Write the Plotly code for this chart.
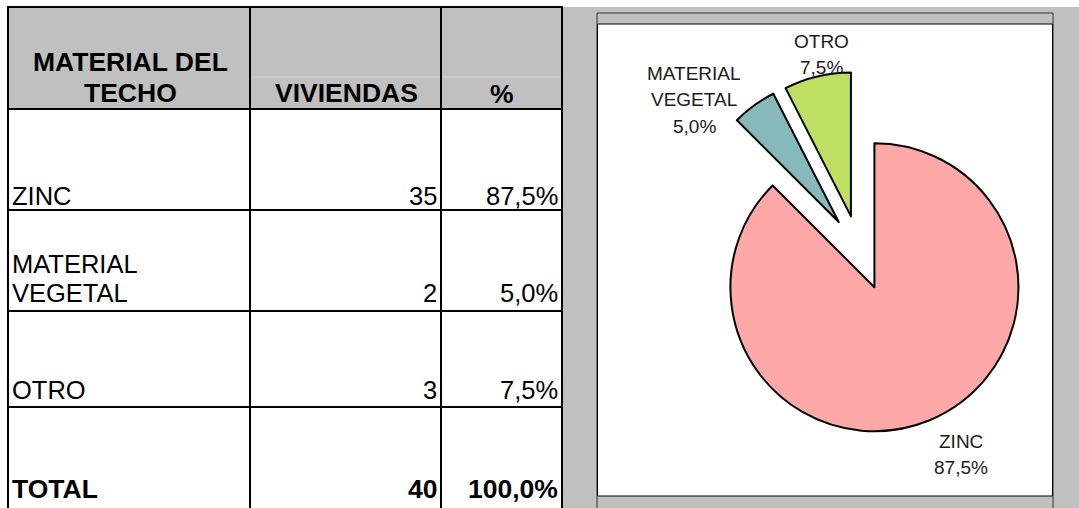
import plotly.graph_objects as go

# ---------------- data ----------------
materiales = ["ZINC", "MATERIAL VEGETAL", "OTRO"]
viviendas = [35, 2, 3]
encabezado_material = ["MATERIAL DEL", "TECHO"]
encabezado_viviendas = "VIVIENDAS"
encabezado_pct = "%"
etiqueta_total = "TOTAL"
colores = ["#ffa8a8", "#86b9ba", "#bedf62"]

total = sum(viviendas)
porcentajes = [v / total * 100 for v in viviendas]


def fmt(p):
    return f"{p:.1f}".replace(".", ",") + "%"


# ---------------- layout helpers ----------------
W, H = 1079, 508
FONT = "Liberation Sans, Arial, sans-serif"


def X(px):
    return px / W


def Y(py):
    return 1 - py / H


shapes = []


def rect(x0, y0, x1, y1, fill, line_color=None, lw=0):
    shapes.append(dict(type="rect", xref="paper", yref="paper",
                       x0=X(x0), x1=X(x1), y0=Y(y0), y1=Y(y1),
                       fillcolor=fill, layer="below",
                       line=dict(color=line_color or fill, width=lw)))


def line(x0, y0, x1, y1, color="black", lw=2):
    shapes.append(dict(type="line", xref="paper", yref="paper",
                       x0=X(x0), x1=X(x1), y0=Y(y0), y1=Y(y1),
                       layer="below", line=dict(color=color, width=lw)))


annotations = []


def text(s, x, y, size, xanchor="center", bold=False, color="black"):
    annotations.append(dict(xref="paper", yref="paper", x=X(x), y=Y(y),
                            text=f"<b>{s}</b>" if bold else s,
                            showarrow=False, xanchor=xanchor, yanchor="middle",
                            font=dict(family=FONT, size=size, color=color)))


# ---------------- backgrounds ----------------
GRAY = "#c0c0c0"
col_x = [8, 250, 441, 562]
row_y = [7, 109, 210, 311, 407, 510]

rect(562, 7, W + 2, H + 2, GRAY)          # gray area right of the table
rect(8, 7, 562, 109, GRAY)                 # header cells
# chart frame
rect(597, 13, 1053, H + 4, GRAY, "#303030", 1)
rect(597.5, 24, 1052.5, 496, "white", "black", 1)

# faint gridline inside header
line(250, 77, 562, 77, "#d4d4d4", 1)

# table grid
for cx in col_x:
    line(cx, 6, cx, H + 2)
for ry in row_y[:-1]:
    line(8, ry, 562, ry)

# ---------------- table text ----------------
TS = 25.5
HS = 26.5
text(encabezado_material[0], 130, 62, HS, bold=True)
text(encabezado_material[1], 130, 92.5, HS, bold=True)
text(encabezado_viviendas, 346, 92.5, HS, bold=True)
text(encabezado_pct, 502, 93.5, HS, bold=True)

last_line_y = [195.5, 293, 390]
line_step = 29.5
for i, nombre in enumerate(materiales):
    partes = nombre.split()
    n = len(partes)
    for j, p in enumerate(partes):
        text(p, 10, last_line_y[i] - (n - 1 - j) * line_step, TS, xanchor="left")
    text(str(viviendas[i]), 439, last_line_y[i], TS, xanchor="right")
    text(fmt(porcentajes[i]), 560, last_line_y[i], TS, xanchor="right")

text(etiqueta_total, 10, 489, HS, xanchor="left", bold=True)
text(str(total), 439, 489, HS, xanchor="right", bold=True)
text(fmt(sum(porcentajes)), 560, 489, HS, xanchor="right", bold=True)

# ---------------- pie ----------------
pulls = [0.28, 0.24, 0.24]
cx_px, cy_px, r_px = 859, 250, 144
half = r_px * (1 + max(pulls))
dom_x = [X(cx_px - half), X(cx_px + half)]
dom_y = [Y(cy_px + half), Y(cy_px - half)]

fig = go.Figure(go.Pie(
    labels=materiales, values=viviendas, sort=False, direction="clockwise",
    rotation=0, pull=pulls, textinfo="none", hoverinfo="label+percent",
    marker=dict(colors=colores, line=dict(color="black", width=2)),
    domain=dict(x=dom_x, y=dom_y), showlegend=False,
))

# pie labels
label_pos = [(961, 441), (694, 74), (821, 42)]
label_step = 26
for i, nombre in enumerate(materiales):
    lineas = nombre.split() + [fmt(porcentajes[i])]
    lx, ly = label_pos[i]
    for j, l in enumerate(lineas):
        text(l, lx, ly + j * label_step, 19, color="#1a1a1a")

fig.update_layout(
    width=W, height=H, autosize=False,
    margin=dict(l=0, r=0, t=0, b=0),
    paper_bgcolor="white", plot_bgcolor="white",
    shapes=shapes, annotations=annotations,
)

fig.write_html(
    "out.html",
    config={"displayModeBar": False},
    post_script="document.body.style.margin='0';document.body.style.overflow='hidden';",
)
